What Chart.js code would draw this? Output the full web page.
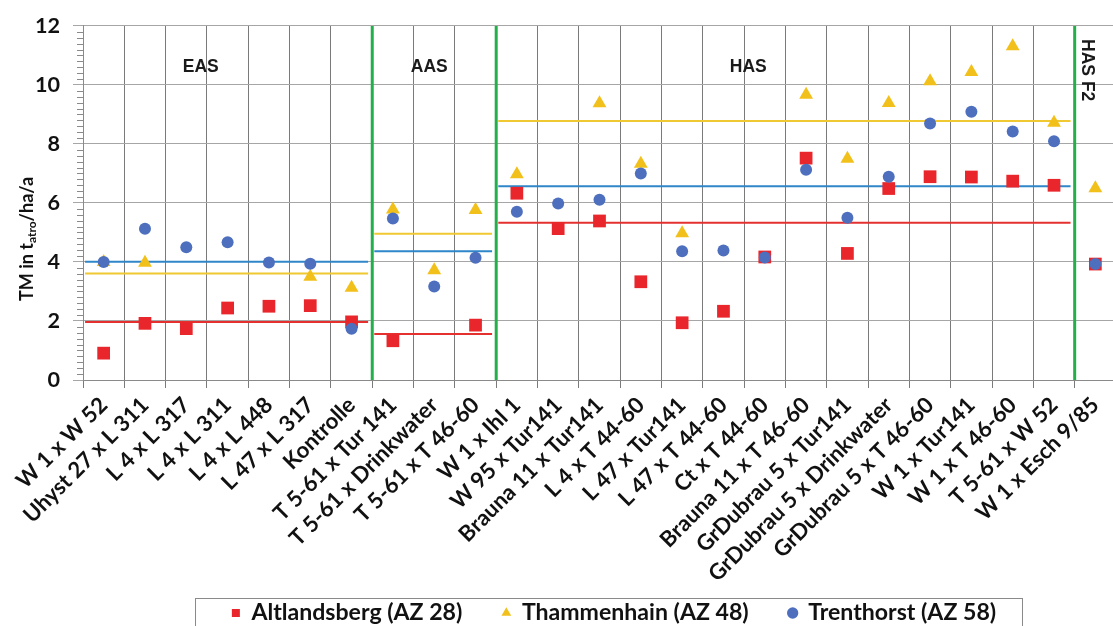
<!DOCTYPE html>
<html>
<head>
<meta charset="utf-8">
<script src="https://cdn.jsdelivr.net/npm/chart.js"></script>
<style>
  html, body { margin: 0; padding: 0; background: #fff; overflow: hidden; width: 1113px; height: 626px; }
  #wrap { position: absolute; left: 0; top: 0; width: 1125px; height: 660px; }
</style>
</head>
<body>
<div id="wrap"><canvas id="chart" width="1125" height="660"></canvas></div>
<script>
// crossing combinations (x axis)
var categories = ['W 1 x W 52', 'Uhyst 27 x L 311', 'L 4 x L 317', 'L 4 x L 311', 'L 4 x L 448',
  'L 47 x L 317', 'Kontrolle', 'T 5-61 x Tur 141', 'T 5-61 x Drinkwater', 'T 5-61 x T 46-60',
  'W 1 x Ihl 1', 'W 95 x Tur141', 'Brauna 11 x Tur141', 'L 4 x T 44-60', 'L 47 x Tur141',
  'L 47 x T 44-60', 'Ct x T 44-60', 'Brauna 11 x T 46-60', 'GrDubrau 5 x Tur141',
  'GrDubrau 5 x Drinkwater', 'GrDubrau 5 x T 46-60', 'W 1 x Tur141', 'W 1 x T 46-60',
  'T 5-61 x W 52', 'W 1 x Esch 9/85'];

// TM in t atro/ha/a per site
var altlandsberg = [0.91, 1.92, 1.74, 2.44, 2.5, 2.52, 1.97, 1.33, null, 1.86, 6.33, 5.13, 5.39, 3.33,
  1.94, 2.33, 4.17, 7.52, 4.29, 6.49, 6.89, 6.88, 6.74, 6.6, 3.93];
var thammenhain = [4.0, 3.97, null, null, null, 3.5, 3.13, 5.78, 3.72, 5.76, 6.97, null, 9.38, 7.33,
  4.97, null, null, 9.67, 7.5, 9.39, 10.13, 10.44, 11.31, 8.72, 6.5];
var trenthorst = [4.0, 5.13, 4.5, 4.67, 3.98, 3.94, 1.74, 5.47, 3.17, 4.14, 5.7, 5.98, 6.11, 7.0,
  4.36, 4.39, 4.15, 7.13, 5.5, 6.89, 8.69, 9.09, 8.42, 8.09, 3.93];

// groups (first / last category index) and group means
var groupNames = ['EAS', 'AAS', 'HAS', 'HAS F2'];
var groupFirst = [0, 7, 10, 24];
var groupLast = [6, 9, 23, 24];
var meanAltlandsberg = [1.97, 1.56, 5.33];
var meanThammenhain = [3.61, 4.96, 8.78];
var meanTrenthorst = [4.01, 4.36, 6.57];

var yTicks = [0, 2, 4, 6, 8, 10, 12];

var RED = '#e8262b', GOLD = '#f2c01a', BLUE = '#4d6fbd';
var RED_LINE = '#e53030', GOLD_LINE = '#f0c832', BLUE_LINE = '#2f86c9', GREEN = '#23b04b';
var FONT = 'Lato';

// size the fonts so the texts get the same widths as in the original
var meas = document.createElement('canvas').getContext('2d');
function fitFont(text, family, width) {
  meas.font = 'bold 100px ' + family;
  return Math.round(1000 * width / meas.measureText(text).width) / 10;
}
var xLabelSize = fitFont('Uhyst 27 x L 311', FONT, 166);
var legendSize = fitFont('Altlandsberg (AZ 28)', FONT, 211);
var yTickSize = fitFont('12', FONT, 25);
var groupSize = fitFont('EAS', '"Liberation Sans"', 36);
var titleSize = 18;
var subSize = 12;

// vertical layout: plot 20..380, tick labels down to 580, legend text centred at 613
var legendPad = 40;
var xAxisHeight = 200;
var legendTop = 613 - legendSize / 2 - legendPad;
var bottomPad = 660 - (380 + xAxisHeight + legendSize + legendPad + 10);

function meanLine(means, g, color) {
  return {
    type: 'line', xAxisID: 'xl', order: 5,
    data: [{x: groupFirst[g] - 0.45, y: means[g]}, {x: groupLast[g] + 0.4, y: means[g]}],
    borderColor: color, borderWidth: 2, pointRadius: 0, fill: false
  };
}

var datasets = [
  {label: 'Trenthorst (AZ 58)', data: trenthorst, pointStyle: 'circle', pointRadius: 6,
   backgroundColor: BLUE, pointBackgroundColor: BLUE, borderColor: BLUE, order: 0},
  {label: 'Thammenhain (AZ 48)', data: thammenhain, pointStyle: 'triangle', pointRadius: 8,
   backgroundColor: GOLD, pointBackgroundColor: GOLD, borderColor: GOLD, order: 1},
  {label: 'Altlandsberg (AZ 28)', data: altlandsberg, pointStyle: 'rect', pointRadius: 9,
   backgroundColor: RED, pointBackgroundColor: RED, borderColor: RED, order: 2}
];
datasets.forEach(function(d) {
  d.showLine = false; d.borderWidth = 0; d.pointBorderWidth = 0; d.pointHoverRadius = d.pointRadius;
});
for (var g = 0; g < 3; g++) {
  datasets.push(meanLine(meanAltlandsberg, g, RED_LINE));
  datasets.push(meanLine(meanThammenhain, g, GOLD_LINE));
  datasets.push(meanLine(meanTrenthorst, g, BLUE_LINE));
}
// green separators after each group
for (var s = 0; s < 3; s++) {
  var bx = groupLast[s] + 0.5;
  datasets.push({type: 'line', xAxisID: 'xl', order: 4, data: [{x: bx, y: 0}, {x: bx, y: 12}],
    borderColor: GREEN, borderWidth: 3, pointRadius: 0, fill: false, clip: false});
}

// text positions in axis units
var groupLabelX = [2.35, 7.88, 15.6, 23.8];
var groupLabelY = [10.6, 10.6, 10.6, 10.5];

var extras = {
  id: 'extras',
  afterLayout: function(chart) {
    // legend sits right of centre and tucked under the labels in the original
    var lg = chart.legend, dy = lg.top - legendTop;
    lg.left += 54; lg.right += 54;
    lg.top -= dy; lg.bottom -= dy;
  },
  afterDraw: function(chart) {
    var ctx = chart.ctx, y = chart.scales.y, xl = chart.scales.xl, area = chart.chartArea;
    ctx.save();
    // minor ticks on the value axis
    ctx.strokeStyle = '#8a8a8a';
    ctx.lineWidth = 1;
    for (var k = 1; k < 60; k++) {
      if (k % 10 === 0) continue;
      var py = Math.round(y.getPixelForValue(k / 5)) + 0.5;
      ctx.beginPath();
      ctx.moveTo(area.left - 6, py);
      ctx.lineTo(area.left, py);
      ctx.stroke();
    }
    // group labels
    ctx.fillStyle = '#1a1a1a';
    ctx.font = 'bold ' + groupSize + 'px "Liberation Sans"';
    ctx.textAlign = 'center';
    ctx.textBaseline = 'middle';
    for (var i = 0; i < 3; i++) {
      ctx.fillText(groupNames[i], xl.getPixelForValue(groupLabelX[i]), y.getPixelForValue(groupLabelY[i]));
    }
    ctx.save();
    ctx.translate(xl.getPixelForValue(groupLabelX[3]), y.getPixelForValue(groupLabelY[3]));
    ctx.rotate(Math.PI / 2);
    ctx.fillText(groupNames[3], 0, 0);
    ctx.restore();

    // y axis title with subscript
    var parts = [['TM in t', titleSize, 0], ['atro', subSize, 5], ['/ha/a', titleSize, 0]];
    var total = 0;
    parts.forEach(function(p) { ctx.font = 'bold ' + p[1] + 'px ' + FONT; total += ctx.measureText(p[0]).width; });
    ctx.fillStyle = '#111';
    ctx.translate(27, 239);
    ctx.rotate(-Math.PI / 2);
    ctx.textAlign = 'left';
    var cx = -total / 2;
    parts.forEach(function(p) {
      ctx.font = 'bold ' + p[1] + 'px ' + FONT;
      ctx.fillText(p[0], cx, p[2]);
      cx += ctx.measureText(p[0]).width;
    });
    ctx.restore();

    // legend frame
    var lg = chart.legend;
    var mid = (lg.left + lg.right) / 2;
    ctx.save();
    ctx.strokeStyle = '#8a8a8a';
    ctx.lineWidth = 1;
    ctx.strokeRect(Math.round(mid - 419) + 0.5, Math.round(lg.top + legendPad + legendSize / 2 - 15) + 0.5, 827, 60);
    ctx.restore();
  }
};

new Chart(document.getElementById('chart'), {
  type: 'line',
  data: {labels: categories, datasets: datasets},
  plugins: [extras],
  options: {
    responsive: false,
    animation: false,
    layout: {padding: {top: 20, right: 5, left: 0, bottom: bottomPad}},
    plugins: {
      tooltip: {enabled: false},
      legend: {
        position: 'bottom',
        labels: {
          usePointStyle: true, boxWidth: 8, boxHeight: 8, padding: legendPad, color: '#111',
          font: {family: FONT, size: legendSize, weight: 'bold'},
          filter: function(item) { return item.datasetIndex < 3; },
          sort: function(a, b) { return b.datasetIndex - a.datasetIndex; }
        }
      }
    },
    scales: {
      x: {
        type: 'category', offset: true,
        grid: {offset: true, color: '#7a7a7a', tickLength: 8},
        border: {color: '#8a8a8a'},
        ticks: {autoSkip: false, maxRotation: 45, minRotation: 45, padding: 4, color: '#111',
          font: {family: FONT, size: xLabelSize, weight: 'bold'}},
        afterFit: function(scale) { scale.height = xAxisHeight; }
      },
      xl: {type: 'linear', display: false, min: -0.5, max: 24.5},
      y: {
        min: 0, max: 12,
        afterBuildTicks: function(scale) { scale.ticks = yTicks.map(function(v) { return {value: v}; }); },
        grid: {color: '#a6a6a6', tickLength: 10},
        border: {color: '#8a8a8a'},
        ticks: {padding: 13, color: '#111', font: {family: FONT, size: yTickSize, weight: 'bold'}},
        afterFit: function(scale) { scale.width = 83; }
      }
    }
  }
});
</script>
</body>
</html>
